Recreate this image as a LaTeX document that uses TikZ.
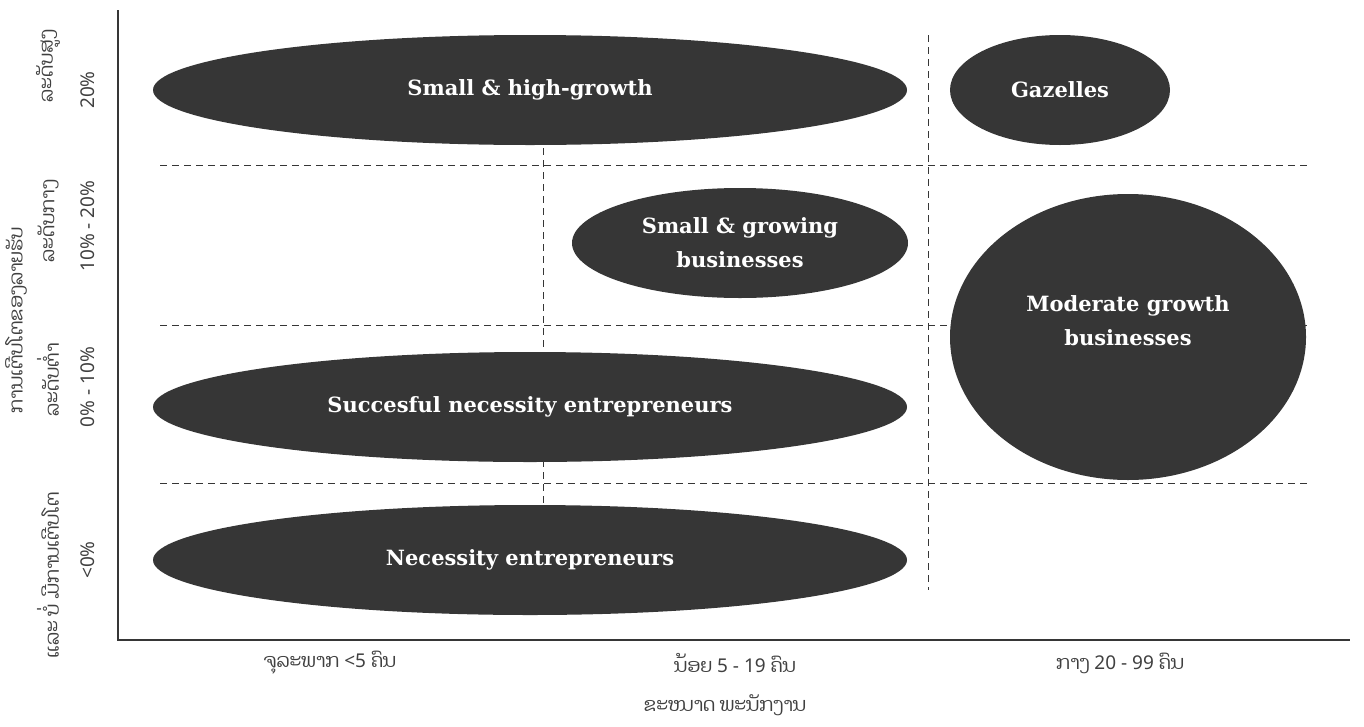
\documentclass[tikz,border=0pt]{standalone}
\usepackage{fontspec}
\setmainfont{Noto Sans}
\newfontfamily\lao[Script=Lao]{Dhyana}
\newfontfamily\lbl{DejaVu Serif}
\usetikzlibrary{shapes.geometric}
\definecolor{ink}{HTML}{363636}
\definecolor{txt}{HTML}{404040}
\begin{document}
\begin{tikzpicture}[x=1pt,y=-1pt,
  blob/.style={ellipse, fill=ink, draw=none, inner sep=0pt},
  blobtext/.style={text=white, font=\lbl\bfseries\fontsize{21}{34}\selectfont, align=center, inner sep=0pt},
  gridline/.style={dash pattern=on 7pt off 5pt, line width=1pt, draw=ink},
  axisline/.style={line width=2.5pt, draw=ink},
  lab/.style={text=txt, font=\fontsize{19}{22}\selectfont, inner sep=0pt}]
\useasboundingbox (0,0) rectangle (1364,726);
% grid coordinates
\coordinate (h1a) at (160,165); \coordinate (h1b) at (1310,165);
\coordinate (h2a) at (160,325); \coordinate (h2b) at (1310,325);
\coordinate (h3a) at (160,483); \coordinate (h3b) at (1310,483);
\coordinate (v1a) at (543,148); \coordinate (v1b) at (543,505);
\coordinate (v2a) at (928,35);  \coordinate (v2b) at (928,590);
\draw[gridline] (h1a) -- (h1b);
\draw[gridline] (h2a) -- (h2b);
\draw[gridline] (h3a) -- (h3b);
\draw[gridline] (v1a) -- (v1b);
\draw[gridline] (v2a) -- (v2b);
% axes
\coordinate (ytop) at (118,10);
\coordinate (orig) at (118,640);
\coordinate (xend) at (1350,640);
\draw[axisline] (ytop) -- (orig) -- (xend);
% ellipses
\node[blob, minimum width=754, minimum height=110] (shg) at (530,90) {};
\node[blobtext] (shgt) at (shg) {Small \& high-growth};
\node[blob, minimum width=220, minimum height=110] (gaz) at (1060,90) {};
\node[blobtext] (gazt) at (gaz) {Gazelles};
\node[blob, minimum width=336, minimum height=110] (sgb) at (740,243) {};
\node[blobtext] (sgbt) at (sgb) {Small \& growing\\businesses};
\node[blob, minimum width=356, minimum height=286] (mgb) at (1128,337) {};
\node[blobtext] (mgbt) at (1128,321) {Moderate growth\\businesses};
\node[blob, minimum width=754, minimum height=110] (sne) at (530,407) {};
\node[blobtext] (snet) at (sne) {Succesful necessity entrepreneurs};
\node[blob, minimum width=754, minimum height=110] (ne) at (530,560) {};
\node[blobtext] (net) at (ne) {Necessity entrepreneurs};
% x labels
\node[lab] (x1) at (330,663) {{\lao ຈຸລະພາກ} <5 {\lao ຄົນ}};
\node[lab] (x2) at (735,663) {{\lao ນ້ອຍ} 5 - 19 {\lao ຄົນ}};
\node[lab] (x3) at (1120,663) {{\lao ກາງ} 20 - 99 {\lao ຄົນ}};
\node[lab] (xt) at (725,705) {\lao ຂະໜາດ ພະນັກງານ};
% y labels
\node[lab, rotate=90] (yt) at (16,320) {\lao ການເຕີບໂຕຂອງລາຍຮັບ};
\node[lab, rotate=90] (r1) at (48,66) {\lao ລະດັບສູງ};
\node[lab, rotate=90] (r2) at (48,221) {\lao ລະດັບກາງ};
\node[lab, rotate=90] (r3) at (48,380) {\lao ລະດັບຕ່ຳ};
\node[lab, rotate=90] (r4) at (48,575) {\lao ແລະ ບໍ່ ມີການເຕີບໂຕ};
\node[lab, rotate=90] (p1) at (88,90) {20\%};
\node[lab, rotate=90] (p2) at (88,226) {10\% - 20\%};
\node[lab, rotate=90] (p3) at (88,387) {0\% - 10\%};
\node[lab, rotate=90] (p4) at (88,560) {<0\%};
\end{tikzpicture}
\end{document}
